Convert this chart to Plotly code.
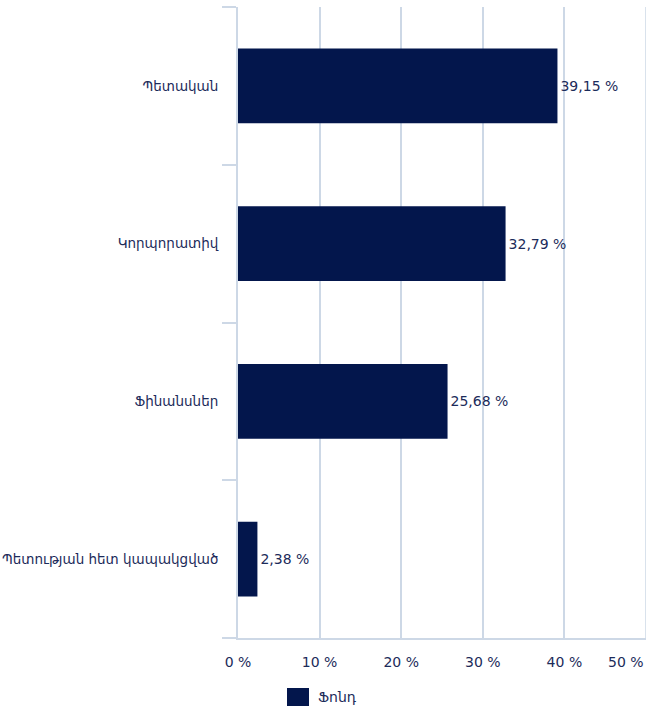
import plotly.graph_objects as go

categories = ["Պետական", "Կորպորատիվ", "Ֆինանսներ", "Պետության հետ կապակցված"]
shares = [39.15, 32.79, 25.68, 2.38]
series_name = "Ֆոնդ"
tick_values = [0, 10, 20, 30, 40]
tick_labels = ["0 %", "10 %", "20 %", "30 %", "40 %"]

BAR = "#03164c"
TEXT = "#1c2b5a"
GRID = "#cdd8e6"
FONT = "DejaVu Sans, Verdana, sans-serif"

fig = go.Figure(
    go.Bar(
        x=shares,
        y=categories,
        orientation="h",
        name=series_name,
        marker=dict(color=BAR, line=dict(width=0)),
        texttemplate="%{x:.2f} %",
        textposition="outside",
        textfont=dict(color=TEXT, size=14, family=FONT),
        cliponaxis=False,
        showlegend=False,
    )
)

fig.update_layout(
    width=648,
    height=709,
    margin=dict(l=238, r=2, t=7, b=71),
    paper_bgcolor="white",
    plot_bgcolor="white",
    separators=", ",
    bargap=0.525,
    font=dict(family=FONT, size=14, color=TEXT),
    xaxis=dict(
        range=[0, 50],
        tickvals=tick_values,
        ticktext=tick_labels,
        showgrid=True,
        gridcolor=GRID,
        gridwidth=1.5,
        zeroline=False,
        showline=True,
        linecolor=GRID,
        linewidth=2,
        ticks="",
        ticklabelstandoff=10,
        automargin=False,
        tickfont=dict(size=14, color=TEXT),
    ),
    yaxis=dict(
        categoryorder="array",
        categoryarray=categories[::-1],
        showline=True,
        linecolor=GRID,
        linewidth=2,
        ticks="outside",
        tickson="boundaries",
        ticklen=14,
        tickcolor=GRID,
        tickwidth=2,
        ticklabelstandoff=15,
        showgrid=False,
        automargin=False,
        tickfont=dict(size=13.5, color=TEXT),
    ),
    showlegend=False,
)

# Last axis label kept inside the page edge
fig.add_annotation(
    x=50, xref="x", y=-0.038, yref="paper",
    text="50 %", showarrow=False, xanchor="right", yanchor="middle",
    font=dict(size=14, color=TEXT),
)
# 50 % gridline at the right edge
fig.add_shape(
    type="line", xref="x", yref="paper", x0=50, x1=50, y0=0, y1=1,
    line=dict(color=GRID, width=1.5),
)

# Legend entry
fig.add_shape(
    type="rect", xref="paper", yref="paper",
    x0=(287 - 238) / 408, x1=(309 - 238) / 408,
    y0=-(706 - 638) / 631, y1=-(688 - 638) / 631,
    fillcolor=BAR, line=dict(width=0),
)
fig.add_annotation(
    x=(316 - 238) / 408, xref="paper", y=-(697 - 638) / 631, yref="paper",
    text=series_name, showarrow=False, xanchor="left", yanchor="middle",
    font=dict(size=14, color=TEXT),
)

fig.write_html("out.html")
